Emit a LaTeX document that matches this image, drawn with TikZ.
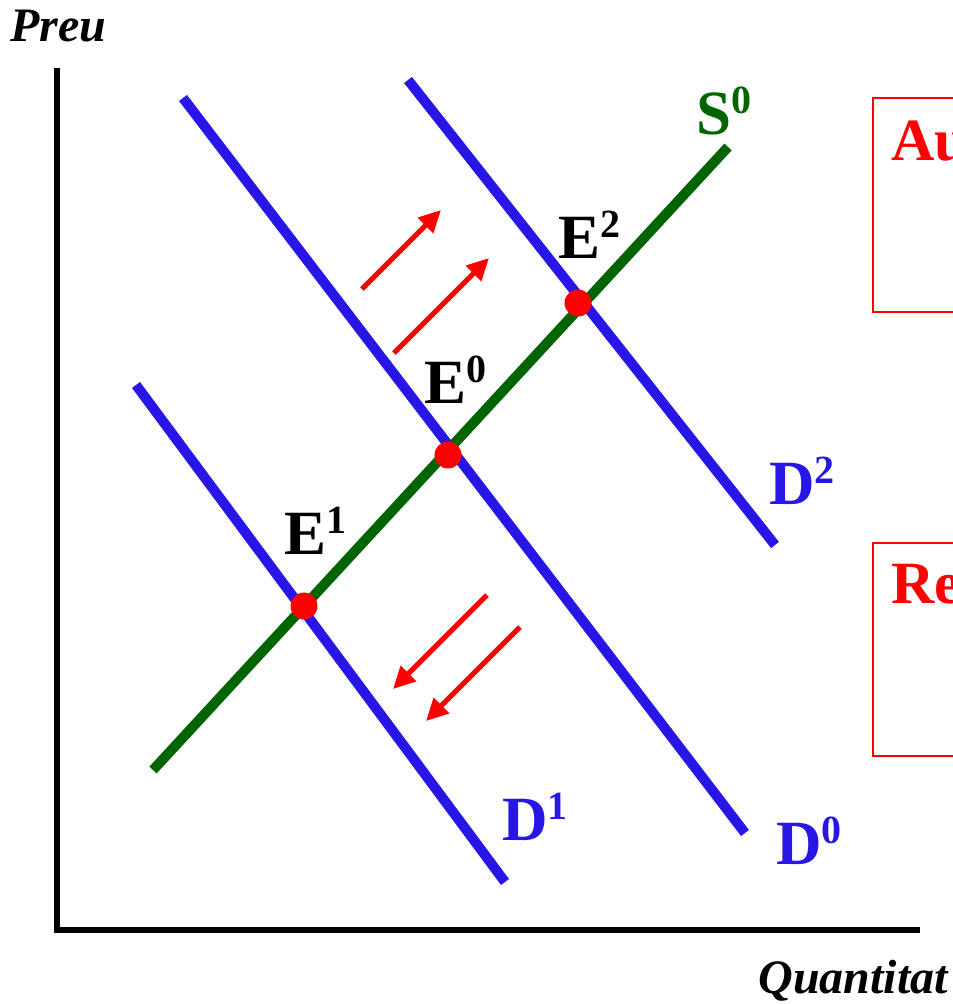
\documentclass[tikz,border=0pt]{standalone}
\usepackage{fontspec}
\setmainfont{Liberation Serif}
\usetikzlibrary{arrows.meta}
\definecolor{dblue}{RGB}{40,22,230}
\definecolor{dgreen}{RGB}{0,100,0}
\newcommand{\biglab}[2]{{\fontsize{63}{63}\selectfont\bfseries #1}\raisebox{21pt}{\fontsize{40}{40}\selectfont\bfseries #2}}
\tikzset{
  axis/.style={line width=6.5pt, black, line cap=butt},
  demand/.style={line width=10pt, dblue},
  supply/.style={line width=10pt, dgreen},
  eqdot/.style={circle, fill=red, inner sep=0pt, minimum size=27pt},
  shiftarrow/.style={line width=5pt, red, -{Triangle[length=22pt,width=21pt]}},
  infobox/.style={draw=red, line width=1.6pt},
  lab/.style={anchor=base west, inner sep=0pt},
}
\begin{document}
\begin{tikzpicture}[x=1pt,y=-1pt]
\useasboundingbox (0,0) rectangle (953,1004);
\clip (0,0) rectangle (953,1004);
% axes
\coordinate (ytop) at (57,68);
\coordinate (orig) at (57,930);
\coordinate (xend) at (920,930);
\draw[axis] (ytop) -- (57,933) ;
\draw[axis] (54,930) -- (xend);
\node[lab] (preu) at (10,41) {\fontsize{48}{48}\selectfont\bfseries\itshape Preu};
\node[lab, anchor=base east] (quant) at (948,993) {\fontsize{48}{48}\selectfont\bfseries\itshape Quantitat};
% info boxes
\node[infobox, anchor=north west, minimum width=150pt, minimum height=214pt] (boxA) at (872,97) {};
\node[infobox, anchor=north west, minimum width=150pt, minimum height=213pt] (boxR) at (872,542) {};
\node[lab, text=red] (au) at (891,160) {\fontsize{60}{60}\selectfont\bfseries Au};
\node[lab, text=red] (re) at (891,603) {\fontsize{60}{60}\selectfont\bfseries Re};
% curve end points
\coordinate (d0a) at (183,98);  \coordinate (d0b) at (745,833);
\coordinate (d2a) at (408,80);  \coordinate (d2b) at (775,545);
\coordinate (d1a) at (136,385); \coordinate (d1b) at (505,882);
\coordinate (s0a) at (153,770); \coordinate (s0b) at (728,147);
\draw[demand] (d0a) -- (d0b);
\draw[demand] (d2a) -- (d2b);
\draw[demand] (d1a) -- (d1b);
\draw[supply] (s0a) -- (s0b);
% equilibria
\node[eqdot] (e0) at (448,455) {};
\node[eqdot] (e2) at (578,303) {};
\node[eqdot] (e1) at (304,606) {};
% shift arrows
\coordinate (u1a) at (362,289); \coordinate (u1b) at (441,210);
\coordinate (u2a) at (394,353); \coordinate (u2b) at (489,258);
\coordinate (l1a) at (487,595); \coordinate (l1b) at (393,689);
\coordinate (l2a) at (520,627); \coordinate (l2b) at (426,721);
\draw[shiftarrow] (u1a) -- (u1b);
\draw[shiftarrow] (u2a) -- (u2b);
\draw[shiftarrow] (l1a) -- (l1b);
\draw[shiftarrow] (l2a) -- (l2b);
% labels
\node[lab, text=dgreen] (ls0) at (696,134) {\biglab{S}{0}};
\node[lab] (le2) at (558,258) {\biglab{E}{2}};
\node[lab] (le0) at (424,403) {\biglab{E}{0}};
\node[lab] (le1) at (284,554) {\biglab{E}{1}};
\node[lab, text=dblue] (ld2) at (769,504) {\biglab{D}{2}};
\node[lab, text=dblue] (ld1) at (502,840) {\biglab{D}{1}};
\node[lab, text=dblue] (ld0) at (776,864) {\biglab{D}{0}};
\end{tikzpicture}
\end{document}
